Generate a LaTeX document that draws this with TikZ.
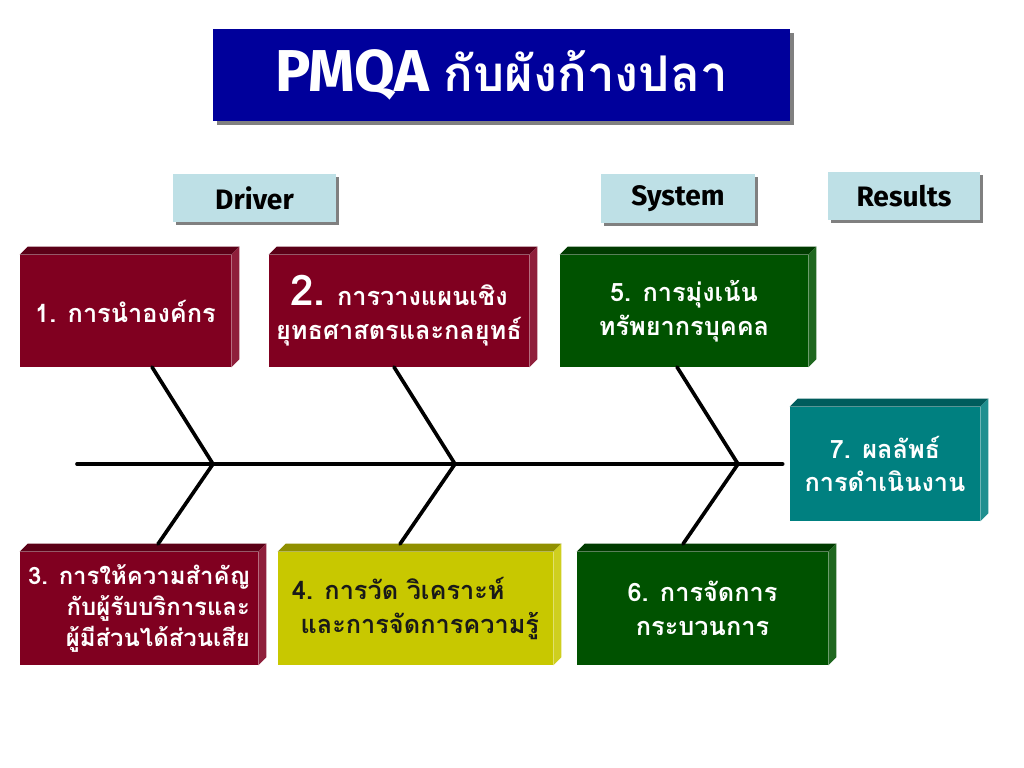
\documentclass[tikz,border=0pt]{standalone}
\usepackage{fontspec}
\newfontfamily\thaifont[Script=Thai]{Loma}
\newfontfamily\labelfont{Fira Sans}
\usetikzlibrary{shadows}
\definecolor{titleblue}{RGB}{0,0,155}
\definecolor{tagblue}{RGB}{190,224,230}
\definecolor{boxred}{RGB}{128,0,32}
\definecolor{boxgreen}{RGB}{0,82,0}
\definecolor{boxteal}{RGB}{0,128,128}
\definecolor{boxolive}{RGB}{200,200,0}
\definecolor{shadowgray}{RGB}{128,128,128}
% top and right faces of a raised box
\newcommand\cubeside[2]{%
  \fill[#2!72!black] (#1.north west) -- ++(8,-8)
    -- ([shift={(8,-8)}]#1.north east) -- (#1.north east) -- cycle;
  \fill[#2!88!white] (#1.north east) -- ([shift={(8,-8)}]#1.north east)
    -- ([shift={(8,-8)}]#1.south east) -- (#1.south east) -- cycle;}
\begin{document}
\begin{tikzpicture}
[x=0.025cm,y=-0.025cm,
  titledecorate/.style={shape=rectangle,inner sep=0pt,fill=titleblue,text=white,
    minimum width=14.425cm,minimum height=2.3cm,
    general shadow={fill=shadowgray,shadow xshift=0.1cm,shadow yshift=-0.1cm}},
  tagdecorate/.style={shape=rectangle,inner sep=0pt,fill=tagblue,minimum height=1.2cm,
    font=\labelfont\bfseries\fontsize{20}{24}\selectfont,
    general shadow={fill=shadowgray,shadow xshift=0.075cm,shadow yshift=-0.075cm}},
  boxdecorate/.style={shape=rectangle,inner sep=0pt,fill=#1,text=white,
    minimum height=2.8cm,font=\thaifont\bfseries\fontsize{18}{24}\selectfont},
  linedecorate/.style={-,line width=2.6pt,line cap=round}]
\useasboundingbox (0,0) rectangle (1024,768);
% title and headings
\node (title) at (501.5,75) [titledecorate]
  {{\labelfont\bfseries\fontsize{42}{48}\selectfont PMQA\ }%
   {\thaifont\bfseries\fontsize{35}{40}\selectfont กับผังก้างปลา}};
\node (driver) at (254.5,198) [tagdecorate,minimum width=4.075cm] {Driver};
\node (system) at (678,198.5) [tagdecorate,minimum width=3.85cm] {System};
\node (results) at (904,196) [tagdecorate,minimum width=3.8cm] {Results};
% nodes or vertices
\node (b1) at (125.5,311) [boxdecorate=boxred,minimum width=5.275cm] {1. การนำองค์กร};
\cubeside{b1}{boxred}
\node (b2) at (399,311) [boxdecorate=boxred,minimum width=6.5cm,align=center]
  {{\fontsize{30}{30}\selectfont 2.} การวางแผนเชิง\\ยุทธศาสตรและกลยุทธ์};
\cubeside{b2}{boxred}
\node (b5) at (684,311) [boxdecorate=boxgreen,minimum width=6.2cm,align=center]
  {5. การมุ่งเน้น\\ทรัพยากรบุคคล};
\cubeside{b5}{boxgreen}
\node (b7) at (885,464) [boxdecorate=boxteal,minimum width=4.75cm,minimum height=2.85cm,align=center]
  {7. ผลลัพธ์\\การดำเนินงาน};
\cubeside{b7}{boxteal}
\node (b3) at (139,608.5) [boxdecorate=boxred,minimum width=5.95cm,minimum height=2.825cm,align=right,
  font=\thaifont\bfseries\fontsize{17}{22}\selectfont]
  {3. การให้ความสำคัญ\\กับผู้รับบริการและ\\ผู้มีส่วนได้ส่วนเสีย};
\cubeside{b3}{boxred}
\node (b4) at (415.5,608.5) [boxdecorate=boxolive,minimum width=6.875cm,minimum height=2.825cm,align=left,
  text=black!90]
  {4. การวัด วิเคราะห์\\\ และการจัดการความรู้};
\cubeside{b4}{boxolive}
\node (b6) at (702.5,608.5) [boxdecorate=boxgreen,minimum width=6.275cm,minimum height=2.825cm,align=center]
  {6. การจัดการ\\กระบวนการ};
\cubeside{b6}{boxgreen}
% joints on the spine
\coordinate (tail) at (77,464);
\coordinate (j1) at (213,464);
\coordinate (j2) at (455,464);
\coordinate (j3) at (738,464);
\coordinate (u1) at (152,367);
\coordinate (u2) at (394,367);
\coordinate (u3) at (677,367);
\coordinate (l1) at (158,544);
\coordinate (l2) at (400,544);
\coordinate (l3) at (683,544);
% edges or lines
\path
(tail) edge[linedecorate,shorten >=5pt] node {} (b7.west)
(u1) edge[linedecorate] node {} (j1)
(j1) edge[linedecorate] node {} (l1)
(u2) edge[linedecorate] node {} (j2)
(j2) edge[linedecorate] node {} (l2)
(u3) edge[linedecorate] node {} (j3)
(j3) edge[linedecorate] node {} (l3);
\end{tikzpicture}
\end{document}
